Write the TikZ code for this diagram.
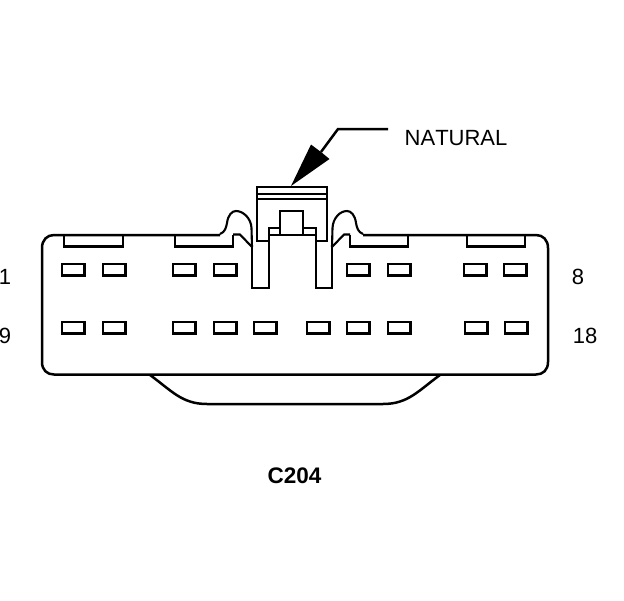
\documentclass[tikz,border=0pt]{standalone}
\usepackage{fontspec}
\setmainfont[Kerning=Off]{Liberation Sans}
\tikzset{
  outline/.style={line width=2.5pt,line join=miter,black},
  thin outline/.style={line width=2.1pt,black},
  pin/.style={draw=black,line width=2.5pt,fill=white},
  lbl/.style={font=\fontsize{22}{25}\selectfont,inner sep=0pt,text=black},
}
\newcommand{\pinat}[2]{\draw[pin] (#1,#2) rectangle ++(22.5,11.5);}
\begin{document}
\begin{tikzpicture}[x=1pt,y=-1pt]
\useasboundingbox[fill=white] (0,0) rectangle (624,600);
% body
\draw[outline] (220,235) -- (54,235) .. controls (47,235) and (42,240) .. (42,248)
  -- (42,362) .. controls (42,370) and (47,374.5) .. (54,374.5) -- (536,374.5)
  .. controls (543,374.5) and (548,370) .. (548,362) -- (548,248)
  .. controls (548,240) and (543,235) .. (536,235) -- (363,235);
% bottom bulge
\draw[outline] (150,375) .. controls (172,391) and (182,404) .. (207,404) -- (383,404)
  .. controls (408,404) and (418,391) .. (440,375);
% ribs
\draw[outline] (64,235) -- (64,246.5) -- (123,246.5) -- (123,235);
\draw[outline] (175,235) -- (175,246.5) -- (233,246.5) -- (233,235);
\draw[outline] (350,235) -- (350,246.5) -- (408,246.5) -- (408,235);
\draw[outline] (467,235) -- (467,246.5) -- (525,246.5) -- (525,235);
% latch sides and bumps
\draw[thin outline] (220,234) .. controls (225,232) and (226,228) .. (227,223)
  .. controls (228,215) and (232,211) .. (236,211) .. controls (243,211) and (251,218) .. (251.5,228) -- (252,247);
\draw[thin outline] (363,234) .. controls (358,232) and (357,228) .. (356,223)
  .. controls (355,215) and (351,211) .. (347,211) .. controls (340,211) and (333,218) .. (332.5,228) -- (332,247);
\draw[thin outline] (233,234.5) -- (240,234.5) -- (252,247);
\draw[thin outline] (350,234.5) -- (344,234.5) -- (332,247);
% centre latch
\draw[outline] (252,241) -- (252,288) -- (269,288) -- (269,228) -- (280,228);
\draw[outline] (332,241) -- (332,288) -- (316,288) -- (316,228) -- (303,228);
\draw[outline] (269,235) -- (316,235);
\draw[outline] (280,235) -- (280,211) -- (303,211) -- (303,235);
% cap
\draw[outline] (269,241) -- (257,241) -- (257,187) -- (327,187) -- (327,241) -- (316,241);
\draw[line width=1.8pt] (257,194) -- (327,194);
\draw[line width=1.8pt] (257,199) -- (327,199);
% pins, row 1
\pinat{62}{264}\pinat{103}{264}\pinat{173}{264}\pinat{214}{264}
\pinat{347}{264}\pinat{388}{264}\pinat{464}{264}\pinat{504}{264}
% pins, row 2
\pinat{62}{322}\pinat{103}{322}\pinat{173}{322}\pinat{214}{322}\pinat{254}{322}
\pinat{307}{322}\pinat{347}{322}\pinat{388}{322}\pinat{465}{322}\pinat{505}{322}
% pointer
\coordinate (tip) at (291,186);
\coordinate (notch) at (321,152);
\coordinate (elbow) at (338,129);
\coordinate (tail) at (388,129);
\draw[line width=2.5pt] (tail) -- (elbow) -- (notch);
\fill (tip) -- (311,144.5) -- (321,152) -- (329.5,159) -- cycle;
% labels
\node[lbl,anchor=base west] (natural) at (404.5,145) {NATURAL};
\node[lbl,anchor=base] (n1) at (5,284.5) {1};
\node[lbl,anchor=base] (n9) at (5,343.5) {9};
\node[lbl,anchor=base] (n8) at (578,284.5) {8};
\node[lbl,anchor=base] (n18) at (585,343.5) {18};
\node[lbl,anchor=base,font=\fontsize{22.5}{25}\selectfont\bfseries] (c204) at (294.5,483) {C204};
\end{tikzpicture}
\end{document}
